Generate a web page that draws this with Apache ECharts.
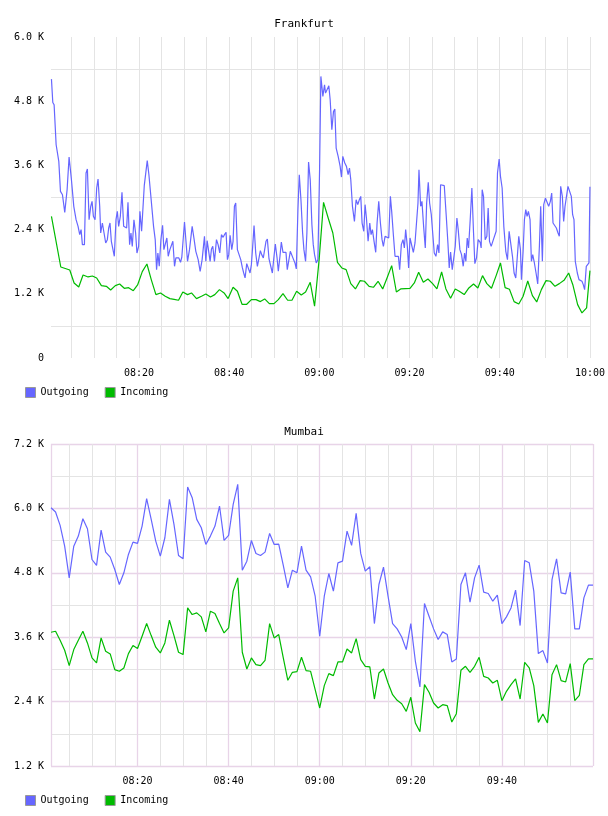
<!DOCTYPE html>
<html>
<head>
<meta charset="utf-8">
<script src="https://cdn.jsdelivr.net/npm/echarts@6/dist/echarts.min.js"></script>
<style>
  html, body { margin: 0; padding: 0; background: #fff; }
  #main { width: 608px; height: 816px; }
</style>
</head>
<body>
<div id="main"></div>
<script>
// time values are minutes after 08:00, traffic values in bytes

// Frankfurt - outgoing (about every 30 s)
var fraOutTime = [0.6,0.9,1.19,1.64,2.23,2.6,3.04,3.26,3.55,4.07,4.51,5.03,5.55,6.06,6.5,6.87,7.17,7.46,7.91,8.27,8.57,8.94,9.31,9.6,9.9,
  10.27,10.63,10.93,11.3,11.52,11.89,12.26,12.63,12.99,13.29,13.58,13.88,14.25,14.54,14.91,15.21,15.5,15.87,16.24,16.61,16.98,17.27,17.57,17.93,18.23,18.52,18.89,19.26,19.56,19.93,
  20.22,20.59,20.88,21.18,21.47,21.84,22.21,22.51,22.88,23.24,23.61,23.91,24.2,24.5,24.87,25.24,25.53,25.9,26.19,26.49,26.86,27.23,27.52,27.89,28.19,28.55,28.85,29.22,29.51,29.81,
  30.1,30.4,30.77,31.21,31.8,32.24,32.61,33.13,33.57,34.01,34.53,34.83,35.12,35.49,35.78,36.08,36.37,36.74,37.19,37.55,37.92,38.29,38.66,38.96,39.32,39.62,39.91,
  40.21,40.58,40.87,41.17,41.46,41.83,42.2,42.57,42.94,43.23,43.53,43.9,44.27,44.63,44.93,45.22,45.52,45.89,46.26,46.55,46.92,47.22,47.58,47.88,48.17,48.47,48.84,49.21,49.58,49.87,
  50.24,50.61,50.9,51.27,51.57,51.94,52.3,52.6,52.89,53.26,53.56,53.93,54.29,54.59,54.89,55.25,55.55,55.92,56.29,56.58,56.95,57.24,57.61,57.98,58.35,58.65,58.94,59.31,59.68,
  60.05,60.34,60.78,61.15,61.37,61.74,62.1,62.4,62.77,63.14,63.43,63.73,64.17,64.61,64.91,65.2,65.64,66.01,66.38,66.68,66.97,67.34,67.78,68.15,68.52,68.82,69.18,69.48,69.85,
  70.14,70.44,70.81,71.18,71.47,71.77,72.13,72.5,72.8,73.17,73.54,73.9,74.2,74.57,74.94,75.38,75.75,76.04,76.41,76.78,77.15,77.52,77.81,78.18,78.55,78.85,79.14,79.51,79.8,
  80.1,80.47,80.84,81.21,81.5,81.87,82.09,82.46,82.75,83.12,83.49,83.79,84.15,84.45,84.82,85.19,85.48,85.85,86.22,86.52,86.88,87.25,87.7,88.14,88.51,88.8,89.1,89.47,89.76,
  90.13,90.5,90.79,91.16,91.53,91.9,92.2,92.49,92.79,93.08,93.45,93.82,94.19,94.48,94.85,95.22,95.66,95.88,96.1,96.4,96.77,97.14,97.43,97.73,98.1,98.46,98.83,99.2,99.5,99.87,
  100.16,100.53,100.9,101.34,101.71,102.08,102.45,102.82,103.18,103.55,103.85,104.22,104.59,104.81,105.18,105.47,105.77,106.06,106.35,106.72,107.02,107.31,107.68,108.05,108.42,108.79,109.08,109.45,109.75,
  110.12,110.48,110.85,111.22,111.52,111.81,112.18,112.55,112.92,113.21,113.51,113.88,114.17,114.47,114.84,115.13,115.5,115.87,116.16,116.46,116.75,117.2,117.57,117.93,118.23,118.52,118.82,119.19,119.48,119.78,120];
var fraOut = [5213,4777,4733,3986,3675,3115,3052,3021,2722,3146,3756,3333,2835,2585,2461,2305,2399,2119,2119,3457,3532,2585,2835,2928,2648,
  2585,3177,3345,2835,2336,2523,2336,2150,2212,2430,2523,2181,2150,1901,2585,2741,2461,2648,3096,2461,2461,2430,2909,2119,2336,2087,2585,2336,1963,2087,
  2741,2368,2386,3221,3239,3688,3426,3146,3177,2461,2212,1652,1963,1714,2212,2480,2025,2056,2243,1901,2025,1994,2181,1714,1870,1901,1870,1789,1888,1901,
  2542,2523,1807,2025,2461,2212,1994,1839,1621,1839,2274,1807,2193,2193,1807,2038,2087,1807,2212,2119,1963,2305,2256,2305,2349,1839,1932,
  2293,2025,2181,2835,2897,2025,2056,1839,1683,1589,1496,1764,1745,1589,1745,2087,2474,1963,1714,1839,2006,1932,1870,1901,2181,2224,1851,1839,1589,1839,
  2131,1882,1621,1901,2168,1975,1994,1975,1652,1683,1994,1994,1839,1776,1664,2772,3426,2959,2336,2025,1807,2336,3663,3333,2492,2119,1932,1776,1839,
  3519,5263,4889,5107,4951,4920,5088,4827,4267,4609,4653,3924,3768,3582,3382,3768,3644,3582,3426,3551,3333,2835,2554,2959,2866,2947,3021,2523,2368,
  2866,2617,2181,2523,2305,2399,2181,1975,2523,2928,2523,2212,2087,2274,2256,2243,3021,2741,2305,1901,1870,1901,1652,2119,2212,2056,2399,2087,1683,
  2243,2212,1975,2150,2150,2897,3519,2835,2928,2461,2056,2897,3283,2897,2679,2648,1963,1901,2119,1963,3239,3270,3221,2648,2150,1683,1982,1652,1839,
  2087,2617,2399,2025,1932,1714,1963,1807,2243,2056,2585,3177,2336,1764,1870,2212,2162,2056,3146,3021,2212,2274,2803,2181,2087,2181,2212,2368,3457,3719,
  3395,3177,2461,1994,1839,2368,2355,1901,1589,1496,1496,2274,2025,1465,1994,2585,2772,2648,2741,2585,1807,1932,1776,1589,1384,2087,2835,1807,2866,
  2990,2959,2835,2928,3084,2523,2542,2430,2336,2274,3208,3021,2554,2835,2866,3208,3239,3021,2679,2585,1807,1589,1465,1465,1433,1371,1278,1714,1683,1776,3200];

// Frankfurt - incoming (about every minute)
var fraInTime = [0.6,2.67,4.66,5.62,6.65,7.61,8.72,9.68,10.63,11.67,12.77,13.73,14.76,15.72,16.75,17.71,18.75,19.7,20.74,21.77,22.73,23.76,24.79,25.83,26.86,27.8,28.78,29.73,
  30.77,31.65,32.76,33.87,34.83,35.86,36.82,37.85,38.88,39.77,40.87,41.83,42.86,43.9,44.93,45.96,46.92,47.88,48.91,49.94,50.9,51.94,52.97,53.93,54.96,55.99,56.95,57.98,58.94,59.95,
  60.93,61.96,62.99,64.02,64.98,65.94,66.97,68,69.04,70,71.03,71.99,73.02,74.05,75.01,76.04,77.08,78.03,79.07,80.1,81.06,82.02,83.05,84.08,85.11,86.07,87.11,88.06,89.1,
  90.13,91.02,92.12,93.15,94.19,95.15,96.18,97.14,98.17,99.2,100.16,101.19,102.15,103.18,104.22,105.18,106.21,107.24,108.2,109.23,110.26,111.22,112.25,113.21,114.25,115.28,116.24,117.27,118.23,119.26,120];
var fraIn = [2648,1701,1645,1403,1328,1552,1515,1533,1496,1353,1340,1272,1353,1384,1303,1315,1259,1365,1614,1757,1465,1185,1216,1154,1110,1095,1079,1234,
  1185,1216,1110,1154,1197,1141,1185,1278,1216,1110,1322,1247,1004,1004,1091,1091,1054,1104,1017,1017,1091,1203,1079,1079,1247,1178,1234,1415,967,1838,
  2909,2617,2336,1789,1683,1652,1390,1291,1446,1434,1340,1322,1434,1291,1496,1726,1234,1291,1297,1303,1403,1602,1415,1477,1390,1291,1608,1291,1116,
  1291,1247,1185,1309,1384,1309,1540,1390,1303,1540,1776,1315,1284,1054,1010,1154,1440,1166,1048,1278,1446,1434,1340,1390,1452,1589,1359,998,842,936,1633];

// Mumbai - one sample per minute, first one at 08:01
var mumStart = 1;
var mumOut = [6013,5932,5683,5297,4706,5297,5484,5807,5621,5048,4937,5596,5185,5092,4862,4582,4800,5142,5372,5347,
  5671,6181,5795,5391,5111,5453,6168,5702,5123,5061,6398,6199,5795,5639,5328,5484,5671,6044,5403,5496,
  6075,6448,4849,5017,5403,5160,5123,5185,5534,5328,5335,4937,4520,4849,4800,5297,4849,4725,4364,
  3618,4364,4787,4458,4986,5017,5577,5310,5907,5161,4831,4912,3854,4582,4906,4364,3854,3755,3605,3369,
  3854,3151,2672,4227,3991,3755,3556,3699,3649,3139,3195,4582,4800,4252,4706,4943,4439,4414,4271,4383,
  3854,3979,4146,4476,3817,5030,4986,4458,3294,3350,3120,4675,5061,4427,4408,4812,3755,3755,4333,4570,4570];
var mumIn = [3692,3711,3543,3357,3070,3369,3543,3711,3493,3214,3120,3587,3338,3288,2996,2965,3027,3294,3444,3388,
  3618,3854,3630,3413,3307,3493,3916,3630,3319,3276,4146,4022,4053,3979,3699,4084,4041,3854,3680,3773,
  4458,4706,3319,3008,3214,3089,3070,3170,3854,3587,3649,3214,2797,2946,2958,3226,2977,2965,2623,
  2281,2697,2921,2884,3139,3139,3381,3307,3574,3182,3058,3046,2448,2934,3008,2747,2529,2424,2361,2218,
  2480,2001,1839,2716,2573,2374,2281,2343,2324,2019,2175,2983,3058,2946,3058,3226,2871,2840,2747,2797,
  2417,2592,2716,2822,2448,3133,3027,2697,2013,2169,2001,2902,3089,2791,2766,3108,2417,2517,3089,3195,3195];

var seriesNames = ['Outgoing', 'Incoming'];

var MONO = '"DejaVu Sans Mono", monospace';
var BLUE = '#6666ff';
var GREEN = '#00bb00';
var GRID_GREY = '#e4e4e4';
var PINK = '#e8d4e8';

function hhmm(v) {
  var t = Math.round(v);
  var h = 8 + Math.floor(t / 60), m = t % 60;
  return (h < 10 ? '0' : '') + h + ':' + (m < 10 ? '0' : '') + m;
}
function kLabel(v) {
  return v === 0 ? '0' : (v / 1000).toFixed(1) + ' K';
}
function zip(t, v) {
  return v.map(function (y, i) { return [t[i], y]; });
}
var mumTime = mumOut.map(function (_, i) { return mumStart + i; });

var labelStyle = { fontFamily: MONO, fontSize: 10, color: '#000' };

function lineSeries(name, idx, data, color) {
  return {
    name: name, type: 'line', xAxisIndex: idx, yAxisIndex: idx,
    data: data, symbol: 'none', showSymbol: false,
    lineStyle: { color: color, width: 1.2 },
    itemStyle: { color: color }
  };
}

var myChart = echarts.init(document.getElementById('main'));

var option = {
  animation: false,
  backgroundColor: '#fff',
  title: [
    { text: 'Frankfurt', left: 'center', top: 14, textStyle: { fontFamily: MONO, fontSize: 11, fontWeight: 'normal', color: '#000' } },
    { text: 'Mumbai', left: 'center', top: 422, textStyle: { fontFamily: MONO, fontSize: 11, fontWeight: 'normal', color: '#000' } }
  ],
  legend: [
    { data: seriesNames, left: 25, top: 387, padding: 0, icon: 'rect', itemWidth: 10, itemHeight: 10, itemGap: 16,
      itemStyle: { borderColor: '#999', borderWidth: 1 }, textStyle: labelStyle, selectedMode: false },
    { data: seriesNames, left: 25, top: 795, padding: 0, icon: 'rect', itemWidth: 10, itemHeight: 10, itemGap: 16,
      itemStyle: { borderColor: '#999', borderWidth: 1 }, textStyle: labelStyle, selectedMode: false }
  ],
  grid: [
    { left: 51, top: 37, width: 541, height: 321 },
    { left: 51, top: 444, width: 542, height: 322 }
  ],
  xAxis: [
    { gridIndex: 0, type: 'value', min: 0.5, max: 120, minInterval: 5, maxInterval: 5,
      axisLine: { show: false }, axisTick: { show: false },
      axisLabel: Object.assign({ margin: 10, formatter: function (v) { return v > 0 && v % 20 === 0 ? hhmm(v) : ''; } }, labelStyle),
      splitLine: { show: true, showMinLine: false, lineStyle: { color: GRID_GREY, width: 1 } } },
    { gridIndex: 1, type: 'value', min: 1, max: 120, minInterval: 5, maxInterval: 5,
      axisLine: { show: false }, axisTick: { show: false },
      axisLabel: Object.assign({ margin: 10, formatter: function (v) { return v > 0 && v < 120 && v % 20 === 0 ? hhmm(v) : ''; } }, labelStyle),
      splitLine: { show: true, showMinLine: false, showMaxLine: false, lineStyle: { color: GRID_GREY, width: 1 } } },
    // pink 20-minute lines and left/right border of the Mumbai plot
    { gridIndex: 1, type: 'value', position: 'top', min: 1, max: 120, minInterval: 20, maxInterval: 20, z: 2,
      axisLine: { show: false }, axisTick: { show: false }, axisLabel: { show: false },
      splitLine: { show: true, lineStyle: { color: PINK, width: 1.3 } } }
  ],
  yAxis: [
    { gridIndex: 0, type: 'value', min: 0, max: 6000, interval: 1200,
      axisLine: { show: false }, axisTick: { show: false },
      axisLabel: Object.assign({ margin: 7, formatter: kLabel }, labelStyle),
      splitLine: { show: false },
      minorTick: { show: false, splitNumber: 2 },
      minorSplitLine: { show: true, lineStyle: { color: GRID_GREY, width: 1 } } },
    { gridIndex: 1, type: 'value', min: 1200, max: 7200, interval: 1200,
      axisLine: { show: false }, axisTick: { show: false },
      axisLabel: Object.assign({ margin: 7, formatter: kLabel }, labelStyle),
      splitLine: { show: true, lineStyle: { color: PINK, width: 1.3 } },
      minorTick: { show: false, splitNumber: 2 },
      minorSplitLine: { show: true, lineStyle: { color: GRID_GREY, width: 1 } } }
  ],
  series: [
    lineSeries('Outgoing', 0, zip(fraOutTime, fraOut), BLUE),
    lineSeries('Incoming', 0, zip(fraInTime, fraIn), GREEN),
    lineSeries('Outgoing', 1, zip(mumTime, mumOut), BLUE),
    lineSeries('Incoming', 1, zip(mumTime, mumIn), GREEN)
  ]
};

myChart.setOption(option);
</script>
</body>
</html>
